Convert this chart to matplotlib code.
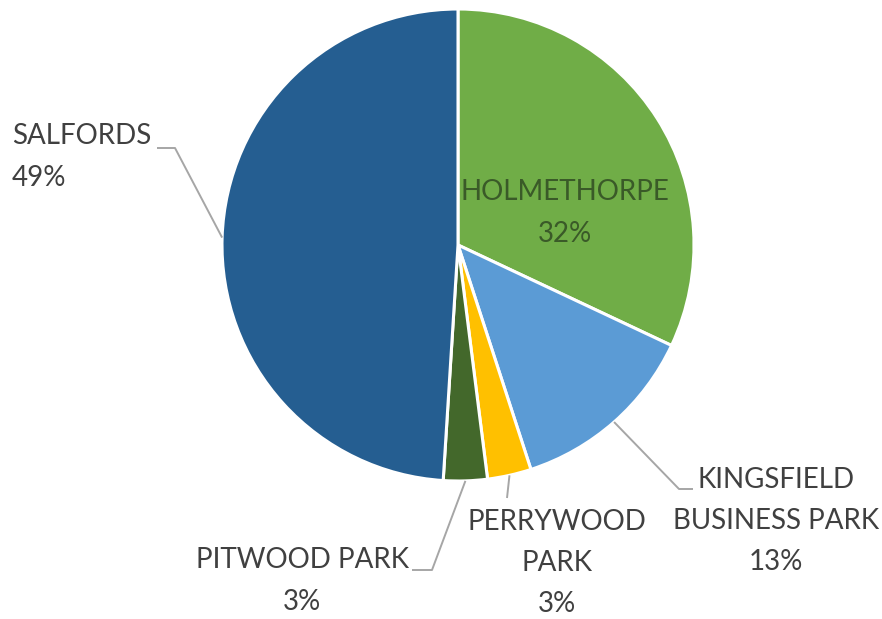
import numpy as np
import matplotlib
matplotlib.use('Agg')
import matplotlib.pyplot as plt

plt.rcParams['font.family'] = ['Lato', 'DejaVu Sans']

areas = ['HOLMETHORPE', 'KINGSFIELD\nBUSINESS PARK', 'PERRYWOOD\nPARK', 'PITWOOD PARK', 'SALFORDS']
shares = [32, 13, 3, 3, 49]
colors = ['#70AD47', '#5B9BD5', '#FFC000', '#43682B', '#255E91']

W, H = 882, 619
fig = plt.figure(figsize=(W / 100, H / 100), dpi=100)
ax = fig.add_axes([0, 0, 1, 1])

cx, cy, r = 458, H - 245, 236
wedges, _ = ax.pie(shares, colors=colors, startangle=90, counterclock=False,
                   center=(cx, cy), radius=r, frame=True,
                   wedgeprops=dict(edgecolor='white', linewidth=2.2))
ax.set_xlim(0, W)
ax.set_ylim(0, H)
ax.set_aspect('equal')
ax.axis('off')

txt = '#404040'
line_c = '#A6A6A6'
fs = 20
ls = 1.72


def edge_point(w):
    a = np.deg2rad((w.theta1 + w.theta2) / 2)
    return cx + r * np.cos(a), cy + r * np.sin(a)


def leader(w, pts):
    x0, y0 = edge_point(w)
    xs = [x0] + [p[0] for p in pts]
    ys = [y0] + [H - p[1] for p in pts]
    ax.plot(xs, ys, color=line_c, lw=1.4, solid_capstyle='butt')


def lab(i):
    return f"{areas[i]}\n{shares[i]}%"


# HOLMETHORPE inside its slice
ax.text(565, H - 213, lab(0), ha='center', va='center', fontsize=fs,
        color='#3A5A28', linespacing=ls)

# KINGSFIELD
leader(wedges[1], [(679, 489), (693, 489)])
ax.text(776, H - 521, lab(1), ha='center', va='center', fontsize=fs,
        color=txt, linespacing=ls)

# PERRYWOOD
leader(wedges[2], [(507, 498)])
ax.text(557, H - 563, lab(2), ha='center', va='center', fontsize=fs,
        color=txt, linespacing=ls)

# PITWOOD
leader(wedges[3], [(432, 570), (412, 570)])
ax.text(302, H - 581, lab(3), ha='center', va='center', fontsize=fs,
        color=txt, linespacing=ls)

# SALFORDS
leader(wedges[4], [(175, 148), (157, 148)])
ax.text(12, H - 157, lab(4), ha='left', va='center', fontsize=fs,
        color=txt, linespacing=ls)

fig.savefig('out.png', dpi=100, facecolor='white')
